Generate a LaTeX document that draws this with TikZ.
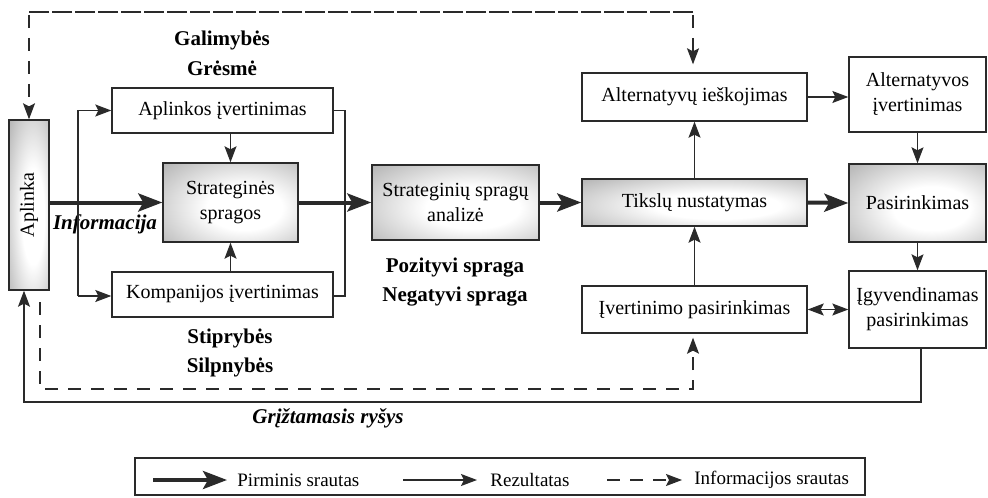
\documentclass[tikz,border=0pt]{standalone}
\usepackage{fontspec}
\setmainfont{Liberation Serif}
\usetikzlibrary{arrows.meta,calc}
\definecolor{ln}{HTML}{2A2A2A}
\pgfdeclareradialshading{boxshade}{\pgfpoint{6bp}{-4bp}}{color(0bp)=(white); color(14bp)=(white); color(42bp)=(black!32); color(100bp)=(black!40)}
\tikzset{
  box/.style={draw=ln, line width=0.7pt, fill=white, inner sep=0pt, align=center,
    font=\fontsize{10}{12.5}\selectfont},
  shbox/.style={box, shading=boxshade},
  tipA/.tip={Stealth[length=8pt,width=6pt,inset=1.5pt]},
  tipB/.tip={Stealth[length=12pt,width=9pt,inset=2.5pt]},
  res/.style={draw=ln, line width=0.6pt, -tipA},
  prim/.style={draw=ln, line width=2pt, -tipB},
  inf/.style={draw=ln, line width=0.6pt, dash pattern=on 6.5pt off 5pt, -tipA},
  lbl/.style={font=\fontsize{10.5}{12.5}\selectfont\bfseries},
  ilbl/.style={font=\fontsize{10.5}{12.5}\selectfont\bfseries\itshape},
  leg/.style={font=\fontsize{9.5}{11}\selectfont, anchor=west, inner sep=0pt},
}
\begin{document}
\begin{tikzpicture}[x=0.5pt,y=-0.5pt]
\path[use as bounding box] (0,0) rectangle (988,497);
% boxes
\node[shbox, minimum width=20pt, minimum height=85pt] (apl) at (29,205) {};
\node[rotate=90, font=\fontsize{10}{12.5}\selectfont] (apltxt) at (apl.center) {Aplinka};
\node[box, minimum width=110.5pt, minimum height=22.5pt] (aiv) at (222.5,110.5) {Aplinkos įvertinimas};
\node[shbox, minimum width=67.5pt, minimum height=39.5pt] (ss) at (230.5,202.5) {Strateginės\\spragos};
\node[box, minimum width=110.5pt, minimum height=22.5pt] (kiv) at (222.5,294.5) {Kompanijos įvertinimas};
\node[shbox, minimum width=83.5pt, minimum height=37.5pt] (ssa) at (455.5,202.5) {Strateginių spragų\\analizė};
\node[shbox, minimum width=112.5pt, minimum height=23.5pt] (tn) at (694.5,202.5) {Tikslų nustatymas};
\node[box, minimum width=112.5pt, minimum height=24pt] (ai) at (694.5,97) {Alternatyvų ieškojimas};
\node[box, minimum width=112.5pt, minimum height=23.5pt] (ip) at (694.5,309.5) {Įvertinimo pasirinkimas};
\node[box, minimum width=68.5pt, minimum height=37.5pt] (av) at (917.5,94.5) {Alternatyvos\\įvertinimas};
\node[shbox, minimum width=68.5pt, minimum height=39pt] (pa) at (917.5,203) {Pasirinkimas};
\node[box, minimum width=68.5pt, minimum height=38.5pt] (ig) at (917.5,309.5) {Įgyvendinamas\\pasirinkimas};
% labels
\node[lbl] (gal) at (222,40) {Galimybės};
\node[lbl] (gre) at (222,68) {Grėsmė};
\node[lbl] (sti) at (230,338) {Stiprybės};
\node[lbl] (sil) at (230,367) {Silpnybės};
\node[lbl] (poz) at (455,268) {Pozityvi spraga};
\node[lbl] (neg) at (455,297) {Negatyvi spraga};
\node[ilbl] (inf) at (105,224) {Informacija};
\node[ilbl] (grz) at (328,418) {Grįžtamasis ryšys};
% brackets
\coordinate (lb1) at (78,110.5);
\coordinate (lb2) at (78,296);
\coordinate (rb1) at (345,110.5);
\coordinate (rb2) at (345,296);
\draw[res] (lb2) -- (lb1) -- (aiv.west);
\draw[res] (lb2) -- (lb2 -| kiv.west);
\draw[draw=ln, line width=0.6pt] (aiv.east) -- (rb1) -- (rb2) -- (rb2 -| kiv.east);
\draw[res] (ss.north |- aiv.south) -- (ss.north);
\draw[res] (ss.south |- kiv.north) -- (ss.south);
% primary flow
\draw[prim] (apl.east |- ss.west) -- (ss.west);
\draw[prim] (ss.east) -- (ssa.west);
\draw[prim] (ssa.east) -- (tn.west);
\draw[prim] (tn.east) -- (pa.west);
% results
\draw[res] (tn.north) -- (ai.south);
\draw[res] (ip.north) -- (tn.south);
\draw[res] (ai.east) -- (ai.east -| av.west);
\draw[res] (av.south) -- (pa.north);
\draw[res] (pa.south) -- (ig.north);
\draw[draw=ln, line width=0.6pt, tipA-tipA] (ip.east) -- (ip.east -| ig.west);
% feedback
\coordinate (fb1) at (921,402);
\coordinate (fb2) at (24,402);
\draw[res] (ig.south -| fb1) -- (fb1) -- (fb2) -- (fb2 |- apl.south);
% information flows
\coordinate (it1) at (29,12);
\coordinate (it2) at (693,12);
\draw[inf] (it2) -- (it1) -- (apl.north -| it1);
\draw[inf, shorten >=4pt] (it1) -- (it2) -- (it2 |- ai.north);
\coordinate (ib1) at (40,302);
\coordinate (ib2) at (40,389);
\coordinate (ib3) at (693,389);
\draw[inf, shorten >=2pt] (ib1) -- (ib2) -- (ib3) -- (ib3 |- ip.south);
% legend
\coordinate (lg1) at (135,458);
\coordinate (lg2) at (865,495);
\draw[draw=ln, line width=0.7pt] (lg1) rectangle (lg2);
\coordinate (l1a) at (153,480); \coordinate (l1b) at (227,480);
\draw[prim] (l1a) -- (l1b);
\node[leg] (t1) at (237,480) {Pirminis srautas};
\coordinate (l2a) at (403,480); \coordinate (l2b) at (477,480);
\draw[res] (l2a) -- (l2b);
\node[leg] (t2) at (490,480) {Rezultatas};
\coordinate (l3a) at (607,480); \coordinate (l3b) at (682,480);
\draw[inf] (l3a) -- (l3b);
\node[leg] (t3) at (694,480) {Informacijos srautas};
\end{tikzpicture}
\end{document}
